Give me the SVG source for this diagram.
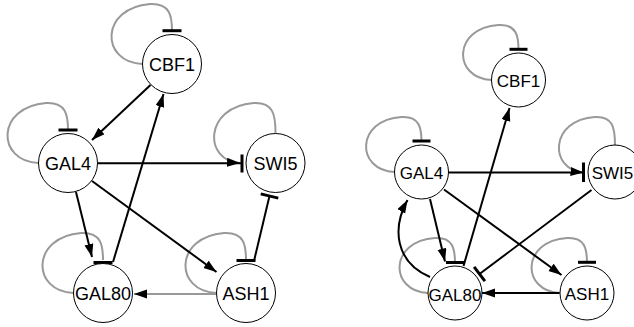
<svg xmlns="http://www.w3.org/2000/svg" width="634" height="327" viewBox="0 0 634 327">
<style>
.node circle{fill:#fff;stroke:#000;stroke-width:1}
.node text{font-family:"Liberation Sans",Arial,sans-serif;text-anchor:middle;fill:#000}
.L text{font-size:18px}
.R text{font-size:17px}
.e{fill:none;stroke:#000;stroke-width:2}
.g{fill:none;stroke:#999;stroke-width:2}
.bar{stroke:#000;stroke-width:3;fill:none}
.a{marker-end:url(#arr)}
</style>
<defs>
<marker id="arr" markerUnits="userSpaceOnUse" markerWidth="13" markerHeight="10" refX="13" refY="4.5" orient="auto">
<path d="M0,0 L13,4.5 L0,9 z" fill="#000"/>
</marker>
<path id="loopL" d="M-29.5,0 C-72,-2 -72,-56 -22,-60 C-2,-61 0,-48 0,-33"/>
<path id="loopR" d="M-27,0 C-66,-2 -66,-52 -20,-55 C-2,-56 0,-44 0,-30"/>
</defs>
<g id="connectors">
<!-- left graph -->
<use href="#loopL" class="g" transform="translate(172,64)"/>
<line class="bar" x1="162.5" y1="30.7" x2="181.5" y2="30.7"/>
<use href="#loopL" class="g" transform="translate(68,163)"/>
<line class="bar" x1="58.5" y1="130" x2="77.5" y2="130"/>
<use href="#loopL" class="g" transform="translate(103,293)"/>
<line class="bar" x1="93.5" y1="262.5" x2="112.5" y2="262.5"/>
<use href="#loopL" class="g" transform="translate(246,293)"/>
<line class="bar" x1="236.5" y1="260.5" x2="255.5" y2="260.5"/>
<path class="g a" d="M275.5,133 C275.5,115 273.5,102 253.5,103 C203.5,107 203.5,161 240,163"/>
<line class="e a" x1="150.5" y1="85" x2="92" y2="140"/>
<line class="e a" x1="113" y1="262" x2="163.5" y2="94"/>
<line class="e" x1="97.5" y1="163.3" x2="242" y2="163.3"/>
<line class="bar" x1="242" y1="154.5" x2="242" y2="172.5"/>
<line class="e a" x1="76" y1="192" x2="92" y2="257"/>
<line class="e a" x1="92" y1="181" x2="216.5" y2="272"/>
<line class="e" x1="254" y1="261" x2="269.5" y2="196"/>
<line class="bar" x1="260.7" y1="193.9" x2="278.3" y2="198.1"/>
<line class="g a" x1="216.5" y1="294" x2="134" y2="294"/>
<!-- right graph -->
<use href="#loopR" class="g" transform="translate(518.5,80)"/>
<line class="bar" x1="509.5" y1="49.3" x2="527.5" y2="49.3"/>
<use href="#loopR" class="g" transform="translate(421.5,172)"/>
<line class="bar" x1="412.5" y1="141" x2="430.5" y2="141"/>
<use href="#loopR" class="g" transform="translate(455,293)"/>
<line class="bar" x1="446" y1="262.5" x2="464" y2="262.5"/>
<use href="#loopR" class="g" transform="translate(587,293)"/>
<line class="bar" x1="578" y1="262.3" x2="596" y2="262.3"/>
<path class="g a" d="M615,145 C615,128 613,116 595,117 C549,120 549,170 583.5,172.5"/>
<line class="e a" x1="463.5" y1="266" x2="509.5" y2="108"/>
<line class="e" x1="448.5" y1="172.5" x2="583.5" y2="172.5"/>
<line class="bar" x1="583.5" y1="162.5" x2="583.5" y2="182"/>
<line class="e" x1="591.5" y1="190" x2="479.5" y2="274"/>
<line class="bar" x1="474.1" y1="266.8" x2="484.9" y2="281.2"/>
<line class="e a" x1="430" y1="199" x2="445" y2="261.5"/>
<path class="e a" d="M430,277 C395,262 392,228 407.5,200"/>
<line class="e a" x1="444" y1="189.5" x2="561.5" y2="275"/>
<line class="e a" x1="559.5" y1="293" x2="482" y2="293"/>
</g>
<g id="node-CBF1-L" class="node L"><circle cx="172" cy="64" r="29.5"/><text x="172" y="70.5">CBF1</text></g>
<g id="node-GAL4-L" class="node L"><circle cx="68" cy="163" r="29.5"/><text x="68" y="169.5">GAL4</text></g>
<g id="node-SWI5-L" class="node L"><circle cx="275.5" cy="163" r="29.5"/><text x="275.5" y="169.5">SWI5</text></g>
<g id="node-GAL80-L" class="node L"><circle cx="103" cy="293" r="29.5"/><text x="103" y="300">GAL80</text></g>
<g id="node-ASH1-L" class="node L"><circle cx="246" cy="293" r="29.5"/><text x="246" y="300">ASH1</text></g>
<g id="node-CBF1-R" class="node R"><circle cx="518.5" cy="80" r="27"/><text x="518.5" y="86.5">CBF1</text></g>
<g id="node-GAL4-R" class="node R"><circle cx="421.5" cy="172" r="27"/><text x="421.5" y="179">GAL4</text></g>
<g id="node-SWI5-R" class="node R"><circle cx="615" cy="172" r="27"/><text x="612.5" y="178.5">SWI5</text></g>
<g id="node-GAL80-R" class="node R"><circle cx="455" cy="293" r="27"/><text x="455" y="300.5">GAL80</text></g>
<g id="node-ASH1-R" class="node R"><circle cx="587" cy="293" r="27"/><text x="587" y="300">ASH1</text></g>
</svg>
